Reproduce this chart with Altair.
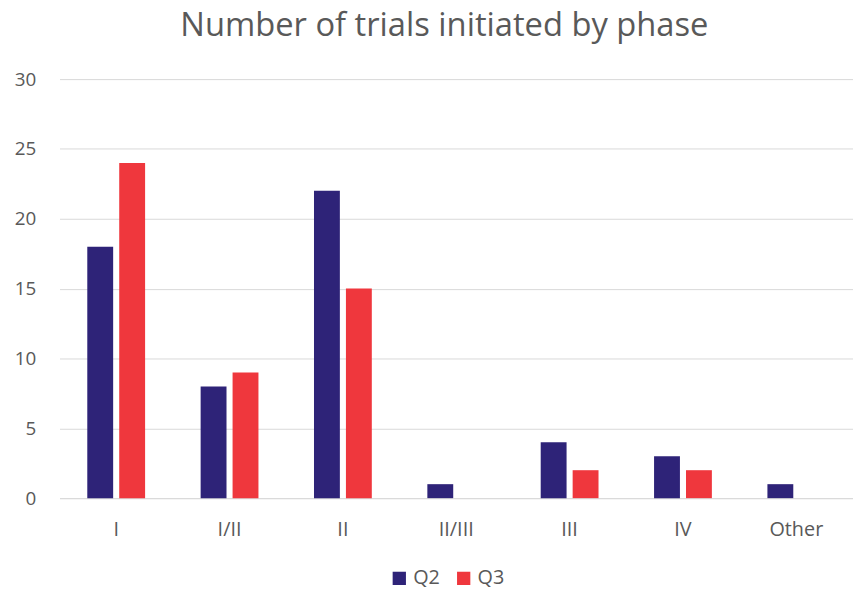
import altair as alt
import pandas as pd

phases = ["I", "I/II", "II", "II/III", "III", "IV", "Other"]
q2 = [18, 8, 22, 1, 4, 3, 1]
q3 = [24, 9, 15, 0, 2, 2, 0]
series = ["Q2", "Q3"]
colors = ["#2E2378", "#EF373D"]
y_ticks = [0, 5, 10, 15, 20, 25, 30]

rows = []
for p, a, b in zip(phases, q2, q3):
    rows.append({"phase": p, "series": "Q2", "value": a})
    rows.append({"phase": p, "series": "Q3", "value": b})
df = pd.DataFrame(rows)

font = "Open Sans"
gray = "#595959"

chart = alt.Chart(df).mark_bar().encode(
    x=alt.X("phase:N", sort=phases, title=None,
            scale=alt.Scale(paddingInner=0.49, paddingOuter=0.245),
            axis=alt.Axis(labelAngle=0, labelFontSize=20, labelColor=gray, labelFont=font,
                          ticks=False, domainColor="#d9d9d9", labelPadding=22)),
    xOffset=alt.XOffset("series:N", sort=series, scale=alt.Scale(paddingInner=0.19, paddingOuter=0)),
    y=alt.Y("value:Q", title=None,
            scale=alt.Scale(domain=[0, 30]),
            axis=alt.Axis(values=y_ticks, labelFontSize=19, labelColor=gray, labelFont=font,
                          ticks=False, domain=False, gridColor="#d9d9d9", labelPadding=24)),
    color=alt.Color("series:N", sort=series,
                    scale=alt.Scale(domain=series, range=colors),
                    legend=alt.Legend(title=None, orient="none", direction="horizontal",
                                      legendX=333, legendY=494, symbolType="square",
                                      symbolSize=180, symbolStrokeWidth=0,
                                      labelFontSize=20, labelColor=gray, labelFont=font,
                                      columnPadding=14, labelOffset=4)),
).properties(
    width=801, height=423,
    title=alt.Title("Number of trials initiated by phase", fontSize=33, color=gray,
                    font=font, fontWeight="normal", anchor="middle", dx=-12, offset=28),
    autosize=alt.AutoSizeParams(type="none"),
    padding={"left": 52, "top": 69, "right": 0, "bottom": 95},
).configure_view(stroke=None)

chart.save("out.html", embed_options={"renderer": "svg", "actions": False})
